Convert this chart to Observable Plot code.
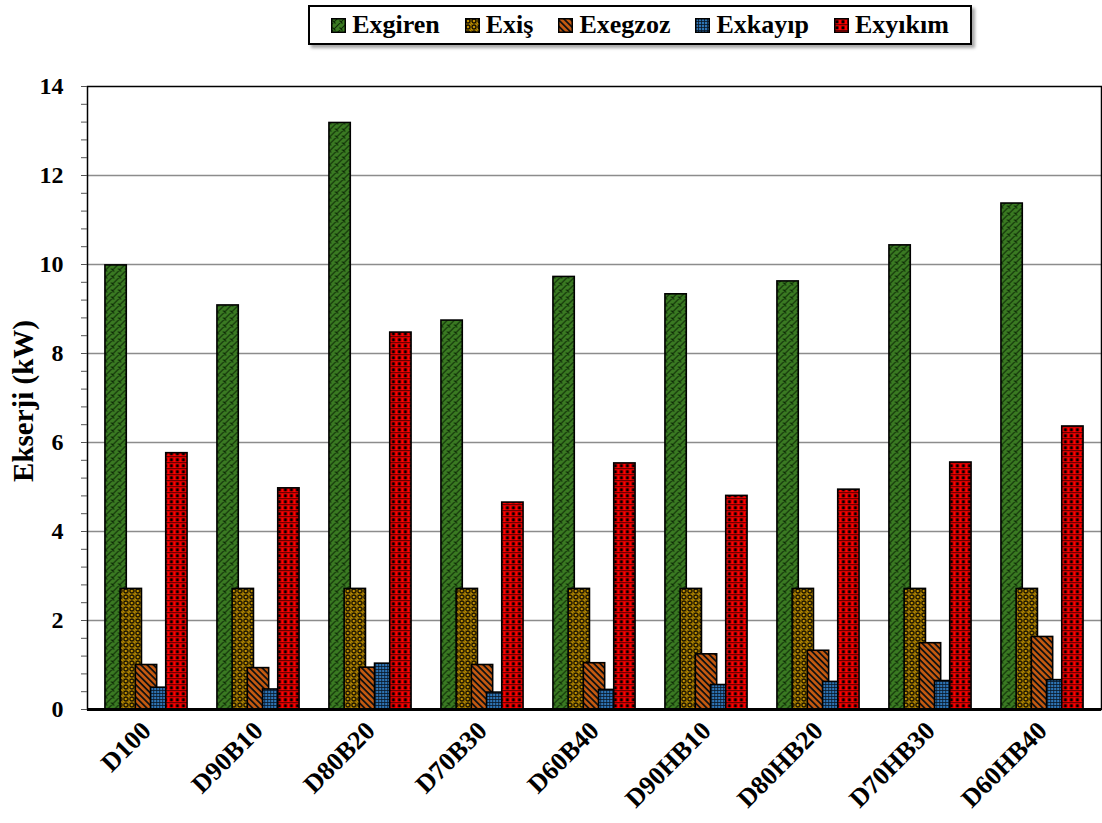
<!DOCTYPE html>
<html>
<head>
<meta charset="utf-8">
<script src="https://cdn.jsdelivr.net/npm/d3@7"></script>
<script src="https://cdn.jsdelivr.net/npm/@observablehq/plot@0.6"></script>
<style>
  body { margin: 0; background: #fff; }
  #wrap { position: relative; width: 1102px; height: 823px; overflow: hidden; }
  #legend {
    position: absolute; left: 308px; top: 5px; width: 664px; height: 40px;
    box-sizing: border-box; border: 2px solid #000; background: #fff;
    box-shadow: 3px 3px 3px rgba(0,0,0,0.35);
    display: flex; align-items: center; justify-content: center; gap: 25px;
    font: bold 26px "Liberation Serif", "Times New Roman", serif; color: #000;
  }
  #legend .item { display: flex; align-items: center; }
  #legend svg { margin-right: 6px; display: block; }
</style>
</head>
<body>
<div id="wrap">
  <div id="chart"></div>
  <div id="legend"></div>
</div>
<script>
// Exergy components for each fuel blend (kW)
const categories = ["D100", "D90B10", "D80B20", "D70B30", "D60B40", "D90HB10", "D80HB20", "D70HB30", "D60HB40"];
const seriesNames = ["Exgiren", "Exiş", "Exegzoz", "Exkayıp", "Exyıkım"];
const exgiren = [9.98, 9.08, 13.18, 8.74, 9.72, 9.33, 9.62, 10.43, 11.37];
const exis    = [2.71, 2.71, 2.71, 2.71, 2.71, 2.71, 2.71, 2.71, 2.71];
const exegzoz = [1.00, 0.93, 0.94, 1.00, 1.04, 1.24, 1.32, 1.49, 1.63];
const exkayip = [0.49, 0.45, 1.03, 0.38, 0.44, 0.55, 0.62, 0.64, 0.66];
const exyikim = [5.76, 4.97, 8.47, 4.65, 5.53, 4.80, 4.94, 5.55, 6.36];
const yTicks = [0, 2, 4, 6, 8, 10, 12, 14];
const yLabel = "Ekserji (kW)";

const seriesValues = [exgiren, exis, exegzoz, exkayip, exyikim];
const rows = seriesValues.map(vals => categories.map((c, j) => ({category: c, value: vals[j]})));
const minorTicks = d3.range(0, 36).map(i => Math.round(i * 4) / 10);

// Layout of the chart area
const W = 1102, H = 823;
const mLeft = 87, mRight = 1, mTop = 86, mBottom = 114;
const bandW = (W - mLeft - mRight) / categories.length;
const barW = 22, barStep = 15.2;
const inset = (bandW - barW) / 2;
const font = "'Liberation Serif', 'Times New Roman', serif";

const chart = Plot.plot({
  width: W,
  height: H,
  marginLeft: mLeft,
  marginRight: mRight,
  marginTop: mTop,
  marginBottom: mBottom,
  style: {fontFamily: font, fontWeight: "bold", color: "#000", background: "#fff"},
  x: {domain: categories, padding: 0, label: null},
  y: {domain: [0, 14], label: null},
  marks: [
    Plot.gridY(yTicks.filter(t => t > 0 && t < 14), {stroke: "#8c8c8c", strokeOpacity: 1, strokeWidth: 1.5}),
    Plot.frame({stroke: "#000", strokeWidth: 1.5}),
    ...rows.map((data, i) => Plot.barY(data, {
      x: "category",
      y: "value",
      fill: `url(#pat-${i})`,
      stroke: "#000",
      strokeWidth: 1.6,
      insetLeft: inset,
      insetRight: inset,
      dx: (i - 2) * barStep
    })),
    Plot.ruleY([0], {stroke: "#000", strokeWidth: 3}),
    Plot.axisY(minorTicks, {tickSize: 6, tickFormat: () => "", stroke: "#555"}),
    Plot.axisY(yTicks, {tickSize: 6, tickPadding: 18, fontSize: 24, fontWeight: "bold", fontFamily: font, stroke: "#555", label: null}),
    Plot.axisX({tickSize: 0, tickPadding: 17, tickRotate: -45, fontSize: 26, fontWeight: "bold", fontFamily: font, label: null}),
    Plot.text([yLabel], {frameAnchor: "left", textAnchor: "middle", rotate: -90, dx: -64, dy: 3, fontSize: 29, fontWeight: "bold", fontFamily: font})
  ]
});

// Hatched fills used by the bars and the legend swatches
function addPatterns(svg) {
  const defs = d3.select(svg).insert("defs", ":first-child");
  const pat = (id, w, h, transform) => {
    const p = defs.append("pattern").attr("id", id)
      .attr("patternUnits", "userSpaceOnUse").attr("width", w).attr("height", h);
    if (transform) p.attr("patternTransform", transform);
    return p;
  };
  // Exgiren: green shingle weave
  let p = pat("pat-0", 7, 7);
  p.append("rect").attr("width", 7).attr("height", 7).attr("fill", "#3a7a22");
  p.append("path").attr("d", "M0 7L7 0M-1 1L1 -1M6 8L8 6M1.5 2.5L4.5 5.5")
    .attr("stroke", "#0d2a06").attr("stroke-width", 1.1).attr("fill", "none");
  // Exiş: gold sphere dots
  p = pat("pat-1", 6, 6);
  p.append("rect").attr("width", 6).attr("height", 6).attr("fill", "#c09000");
  p.append("circle").attr("cx", 3).attr("cy", 3).attr("r", 2)
    .attr("fill", "none").attr("stroke", "#140e00").attr("stroke-width", 1.4);
  p.append("circle").attr("cx", 0).attr("cy", 0).attr("r", 0.7).attr("fill", "#140e00");
  p.append("circle").attr("cx", 6).attr("cy", 6).attr("r", 0.7).attr("fill", "#140e00");
  // Exegzoz: orange with wide downward diagonals
  p = pat("pat-2", 4.4, 4.4, "rotate(45)");
  p.append("rect").attr("width", 4.4).attr("height", 4.4).attr("fill", "#c55a11");
  p.append("rect").attr("width", 4.4).attr("height", 1.8).attr("fill", "#111");
  // Exkayıp: blue small grid
  p = pat("pat-3", 3, 3);
  p.append("rect").attr("width", 3).attr("height", 3).attr("fill", "#2e75b6");
  p.append("path").attr("d", "M0 0.5H3M0.5 0V3")
    .attr("stroke", "#0a1626").attr("stroke-width", 0.8).attr("fill", "none");
  // Exyıkım: red plaid
  p = pat("pat-4", 6, 6);
  p.append("rect").attr("width", 6).attr("height", 6).attr("fill", "#ff0000");
  p.append("rect").attr("y", 0).attr("width", 6).attr("height", 1.3).attr("fill", "#6a0000");
  p.append("rect").attr("x", 1.5).attr("y", 2.3).attr("width", 3).attr("height", 3).attr("fill", "#000");
}
addPatterns(chart);
document.getElementById("chart").appendChild(chart);

// Legend
const legend = d3.select("#legend");
seriesNames.forEach((name, i) => {
  const item = legend.append("div").attr("class", "item");
  const sw = item.append("svg").attr("width", 15).attr("height", 15);
  sw.append("rect").attr("x", 0.75).attr("y", 0.75).attr("width", 13.5).attr("height", 13.5)
    .attr("fill", `url(#pat-${i})`).attr("stroke", "#000").attr("stroke-width", 1.5);
  item.append("span").text(name);
});
</script>
</body>
</html>
